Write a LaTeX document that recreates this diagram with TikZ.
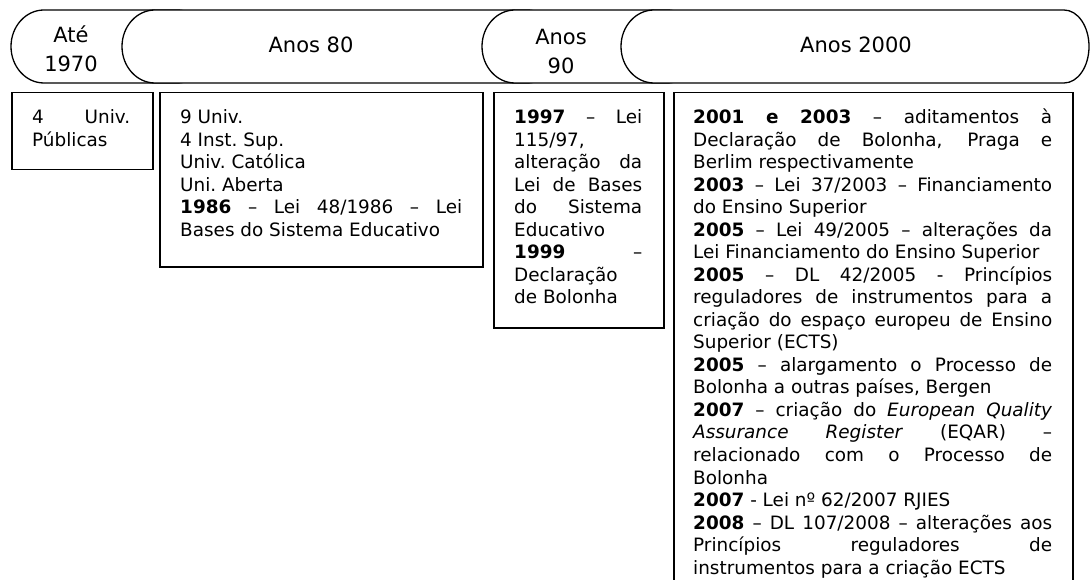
\documentclass[tikz,border=0pt]{standalone}
\usepackage{fontspec}
\setmainfont{DejaVu Sans}
\newcommand\bodyfont{\fontsize{18.4}{22.5}\selectfont}
\newcommand\headfont{\fontsize{21}{29}\selectfont}
\newcommand\jtext[2]{\parbox[t]{#1}{\tolerance=10000\pretolerance=-1\hyphenpenalty=10000\exhyphenpenalty=10000\spaceskip=0.318em plus 5em minus 0.05em\xspaceskip=\spaceskip #2}}
\newcommand\termshape[3]{%
  \path[hdr] (#1+33,10) -- (#2-#3,10)
    arc[start angle=-90,end angle=90,x radius=#3,y radius=36.5]
    -- (#1+33,83)
    arc[start angle=90,end angle=270,x radius=33,y radius=36.5] -- cycle;}
\begin{document}
\begin{tikzpicture}[x=1pt,y=-1pt,
  hdr/.style={draw=black, line width=1.3pt, fill=white},
  boxs/.style={draw=black, line width=1.5pt, inner sep=0pt, anchor=north west},
  txt/.style={inner sep=0pt, anchor=base west, font=\bodyfont},
  htxt/.style={inner sep=0pt, anchor=base, font=\headfont}]
\useasboundingbox (0,0) rectangle (1091,580);
\fill[white] (0,0) rectangle (1091,580);
% header shapes
\termshape{11}{210}{33}
\termshape{122}{560}{33}
\termshape{482}{700}{33}
\termshape{621}{1089}{25}
% header texts
\node[htxt] (t1) at (71,43) {\parbox[t]{120pt}{\centering Até\\1970}};
\node[htxt] (t2) at (311,53) {Anos 80};
\node[htxt] (t3) at (561,45) {\parbox[t]{120pt}{\centering Anos\\90}};
\node[htxt] (t4) at (856,53) {Anos 2000};
% boxes
\node[boxs, minimum width=141pt, minimum height=77pt] (b1) at (11,92) {};
\node[boxs, minimum width=323pt, minimum height=174pt] (b2) at (159,92) {};
\node[boxs, minimum width=170pt, minimum height=235pt] (b3) at (493,92) {};
\node[boxs, minimum width=399pt, minimum height=520pt] (b4) at (673,92) {};
% box texts
\node[txt] (x1) at (32,124) {\jtext{98pt}{4 Univ.\linebreak Públicas}};
\node[txt] (x2) at (180,124) {\jtext{282pt}{9 Univ.\par 4 Inst. Sup.\par Univ. Católica\par Uni. Aberta\par \textbf{1986} – Lei 48/1986 – Lei\linebreak Bases do Sistema Educativo}};
\node[txt] (x3) at (514,124) {\jtext{128pt}{\textbf{1997} – Lei\linebreak 115/97,\linebreak alteração da\linebreak Lei de Bases\linebreak do Sistema\linebreak Educativo\par \textbf{1999} –\linebreak Declaração\linebreak de Bolonha}};
\node[txt] (x4) at (693,124) {\jtext{359pt}{\textbf{2001 e 2003} – aditamentos à\linebreak Declaração de Bolonha, Praga e\linebreak Berlim respectivamente\par
\textbf{2003} – Lei 37/2003 – Financiamento\linebreak do Ensino Superior\par
\textbf{2005} – Lei 49/2005 – alterações da\linebreak Lei Financiamento do Ensino Superior\par
\textbf{2005} – DL 42/2005 - Princípios\linebreak reguladores de instrumentos para a\linebreak criação do espaço europeu de Ensino\linebreak Superior (ECTS)\par
\textbf{2005} – alargamento o Processo de\linebreak Bolonha a outras países, Bergen\par
\textbf{2007} – criação do \textit{European Quality}\linebreak \textit{Assurance Register} (EQAR) –\linebreak relacionado com o Processo de\linebreak Bolonha\par
\textbf{2007} - Lei nº 62/2007 RJIES\par
\textbf{2008} – DL 107/2008 – alterações aos\linebreak Princípios reguladores de\linebreak instrumentos para a criação ECTS}};
\end{tikzpicture}
\end{document}
